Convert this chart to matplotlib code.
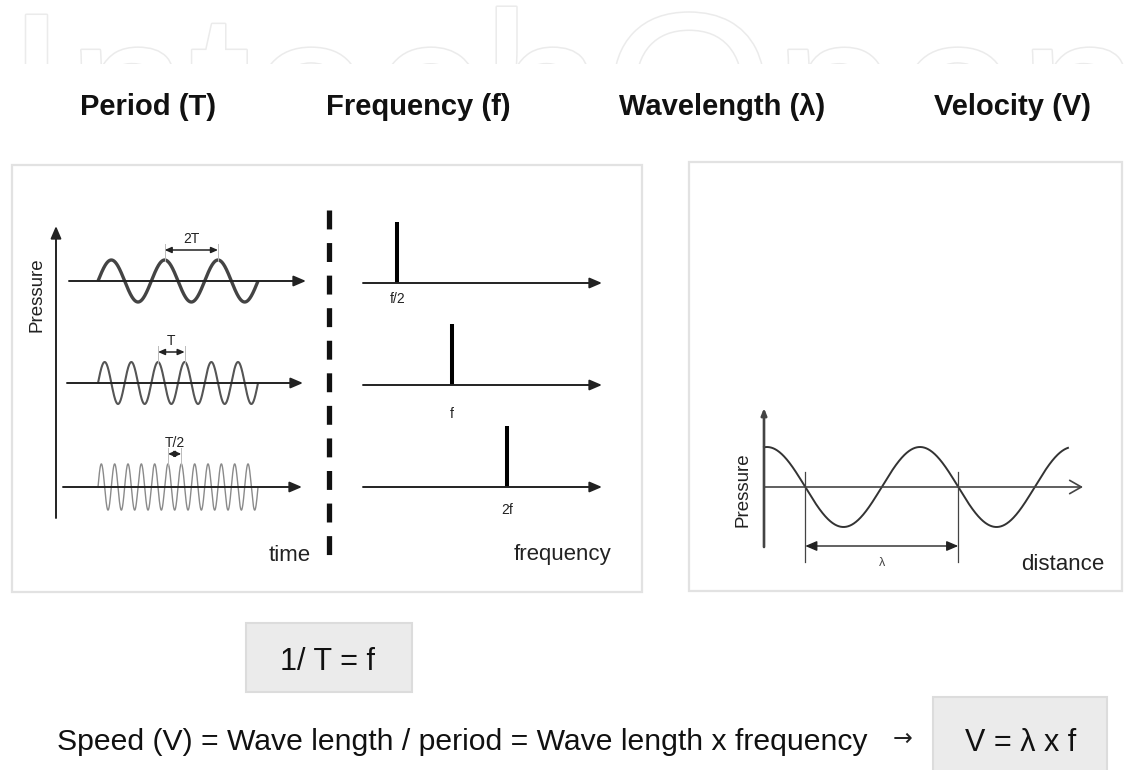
import numpy as np
import matplotlib
matplotlib.use("Agg")
import matplotlib.pyplot as plt
from matplotlib.patches import Rectangle
import matplotlib.patheffects as pe

plt.rcParams['font.family'] = ['Liberation Sans', 'DejaVu Sans']

# ---------------- data ----------------
headers = ['Period (T)', 'Frequency (f)', 'Wavelength (λ)', 'Velocity (V)']
header_x = [148, 418, 722, 1013]

wave_periods_T = [2.0, 1.0, 0.5]        # period of each time signal (units of T)
wave_span_T = 6.0                       # duration of each signal (units of T)
wave_amp = [1.0, 1.0, 1.1]              # relative amplitude
period_labels = ['2T', 'T', 'T/2']
period_marker_peak = [1, 2, 5]          # marker spans from this peak to the next

spec_freqs = [0.5, 1.0, 2.0]            # spectral lines (units of f)
spec_amp = [1.0, 1.0, 1.0]
spec_labels = ['f/2', 'f', '2f']

dist_start = -0.02                      # start of the distance wave (units of λ)
dist_end = 1.967
lambda_marker = [0.25, 1.25]            # zero crossings spanned by λ

formula_1 = '1/ T = f'
formula_2 = 'V = λ x f'
speed_text = 'Speed (V) = Wave length / period = Wave length x frequency'

# ---------------- figure ----------------
W, H = 1124, 770
fig = plt.figure(figsize=(W / 100, H / 100), dpi=100)
fig.patch.set_facecolor('white')
ax0 = fig.add_axes([0, 0, 1, 1])
ax0.set_xlim(0, W)
ax0.set_ylim(H, 0)
ax0.axis('off')


def px_axes(x0, x1, y0, y1):
    a = fig.add_axes([x0 / W, 1 - y1 / H, (x1 - x0) / W, (y1 - y0) / H])
    a.axis('off')
    return a


# watermark (outline letters, only their tops visible)
ax0.text(6, 166, 'IntechOpen', fontsize=158, color='white', ha='left', va='baseline', zorder=0.1,
         path_effects=[pe.Stroke(linewidth=2.2, foreground='#ebebeb'), pe.Normal()])
ax0.add_patch(Rectangle((-5, 64), W + 10, H, facecolor='white', edgecolor='none', zorder=0.2))

# headers
for t, x in zip(headers, header_x):
    ax0.text(x, 115, t, fontsize=21, fontweight='bold', ha='center', va='baseline', color='#111111')

# panels
ax0.add_patch(Rectangle((12, 165), 630, 427, facecolor='white', edgecolor='#e2e2e2', lw=1.6))
ax0.add_patch(Rectangle((689, 162), 433, 429, facecolor='white', edgecolor='#e2e2e2', lw=1.6))

# dashed separator
ax0.plot([329, 329], [210, 557], color='#111111', lw=3.8, solid_capstyle='butt',
         dashes=(19 / 5.3, 13.7 / 5.3))

# ---------------- time signals ----------------
t0_px, pxT = 98.0, 26.67
ax_t = px_axes(40, 320, 215, 530)
ax_t.set_xlim((40 - t0_px) / pxT, (320 - t0_px) / pxT)
ax_t.set_ylim(530, 215)
row_base = [281, 383, 487]
amp_px = 21
row_axis_x = [(69, 306), (67, 303), (63, 302)]
wave_style = [dict(color='#444444', lw=2.4), dict(color='#555555', lw=1.5), dict(color='#8a8a8a', lw=1.0)]
ahead = dict(arrowstyle='-|>,head_length=0.7,head_width=0.3', color='#222222', lw=1.4,
             mutation_scale=10.5, shrinkA=0, shrinkB=0)

# vertical pressure axis
xv = (56 - t0_px) / pxT
ax_t.annotate('', xy=(xv, 226), xytext=(xv, 518), arrowprops=ahead, annotation_clip=False)

for i, P in enumerate(wave_periods_T):
    base = row_base[i]
    xa, xb = row_axis_x[i]
    ax_t.annotate('', xy=((xb - t0_px) / pxT, base), xytext=((xa - t0_px) / pxT, base),
                  arrowprops=ahead, annotation_clip=False)
    t = np.linspace(0, wave_span_T, 1500)
    y = base - amp_px * wave_amp[i] * np.sin(2 * np.pi * t / P)
    ax_t.plot(t, y, solid_capstyle='butt', **wave_style[i])
    # period marker
    k = period_marker_peak[i]
    p1 = P / 4 + k * P
    p2 = p1 + P
    ytop = base - amp_px * wave_amp[i]
    ya = ytop - 10
    for p in (p1, p2):
        ax_t.plot([p, p], [ya - 6, ytop + 1], color='#bbbbbb', lw=0.7)
    ax_t.annotate('', xy=(p2, ya), xytext=(p1, ya),
                  arrowprops=dict(arrowstyle='<|-|>,head_length=0.5,head_width=0.22',
                                  color='#222222', lw=1.1, mutation_scale=8, shrinkA=0, shrinkB=0))
    ax_t.text((p1 + p2) / 2, ya - 4, period_labels[i], fontsize=10, ha='center', va='bottom',
              color='#222222')

ax0.text(290, 561, 'time', fontsize=16, ha='center', va='baseline', color='#222222')

# ---------------- spectra ----------------
f0_px, px_oct = 452.0, 54.75
ax_s = px_axes(340, 640, 215, 530)
ax_s.set_xscale('log', base=2)
ax_s.set_xlim(2 ** ((340 - f0_px) / px_oct), 2 ** ((640 - f0_px) / px_oct))
ax_s.set_ylim(530, 215)
ax_s.axis('off')
spec_base = [283, 385, 487]
spike_px = 61
label_off = [9, 22, 16]
for i, f in enumerate(spec_freqs):
    base = spec_base[i]
    ax_s.annotate('', xy=(2 ** ((602 - f0_px) / px_oct), base),
                  xytext=(2 ** ((363 - f0_px) / px_oct), base),
                  arrowprops=ahead, annotation_clip=False)
    ax_s.vlines(f, base, base - spike_px * spec_amp[i], color='black', lw=2.9)
    ax_s.text(f, base + label_off[i], spec_labels[i], fontsize=10, ha='center', va='top',
              color='#222222')

ax0.text(563, 560, 'frequency', fontsize=16, ha='center', va='baseline', color='#222222')

# ---------------- distance wave ----------------
d0_px, pxL = 767.0, 153.0
yb_px, pxA = 487.0, 40.0
ax_d = px_axes(720, 1110, 400, 580)
ax_d.set_xlim((720 - d0_px) / pxL, (1110 - d0_px) / pxL)
ax_d.set_ylim((yb_px - 580) / pxA, (yb_px - 400) / pxA)
xs = np.linspace(dist_start, dist_end, 800)
ax_d.plot(xs, np.cos(2 * np.pi * xs), color='#333333', lw=1.4)
xax = (764 - d0_px) / pxL
ax_d.annotate('', xy=(xax, (yb_px - 408) / pxA), xytext=(xax, (yb_px - 547) / pxA),
              arrowprops=dict(arrowstyle='-|>,head_length=0.5,head_width=0.2', color='#444444',
                              lw=1.9, mutation_scale=8, shrinkA=0, shrinkB=0),
              annotation_clip=False)
ax_d.annotate('', xy=((1083 - d0_px) / pxL, 0), xytext=(xax, 0),
              arrowprops=dict(arrowstyle='->,head_length=0.7,head_width=0.4', color='#444444',
                              lw=1.2, mutation_scale=12, shrinkA=0, shrinkB=0),
              annotation_clip=False)
for xm in lambda_marker:
    ax_d.plot([xm, xm], [(yb_px - 472) / pxA, (yb_px - 562) / pxA], color='#444444', lw=0.9)
ylam = (yb_px - 546) / pxA
ax_d.annotate('', xy=(lambda_marker[1], ylam), xytext=(lambda_marker[0], ylam),
              arrowprops=dict(arrowstyle='<|-|>,head_length=0.7,head_width=0.3', color='#222222',
                              lw=1.0, mutation_scale=10, shrinkA=0, shrinkB=0))
ax_d.text(np.mean(lambda_marker), (yb_px - 557) / pxA, 'λ', fontsize=9, ha='center', va='top',
          color='#444444')

ax0.text(1063, 570, 'distance', fontsize=16, ha='center', va='baseline', color='#222222')

# Pressure labels
ax0.text(37, 295, 'Pressure', fontsize=13.5, rotation=90, ha='center', va='center', color='#222222')
ax0.text(743, 490, 'Pressure', fontsize=13.5, rotation=90, ha='center', va='center', color='#222222')

# ---------------- formulas ----------------
ax0.add_patch(Rectangle((246, 623), 166, 69, facecolor='#ebebeb', edgecolor='#dcdcdc', lw=1.5))
ax0.text(327, 670, formula_1, fontsize=22, ha='center', va='baseline', color='#111111')

ax0.text(57, 750, speed_text, fontsize=21.7, ha='left', va='baseline', color='#111111')
ax0.text(903, 746, '→', fontsize=17, ha='center', va='baseline', color='#222222',
         family=['DejaVu Sans'])
ax0.add_patch(Rectangle((933, 697), 174, 76, facecolor='#ebebeb', edgecolor='#dcdcdc', lw=1.5,
                        clip_on=False))
ax0.text(1021, 751, formula_2, fontsize=22, ha='center', va='baseline', color='#111111')

fig.savefig('out.png', dpi=100, facecolor='white')
